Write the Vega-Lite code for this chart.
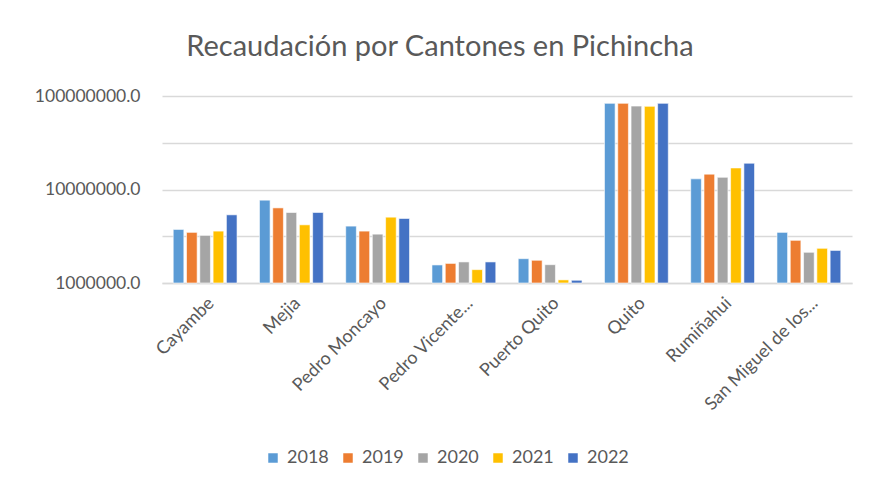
{
  "$schema": "https://vega.github.io/schema/vega-lite/v6.json",
  "width": 690,
  "height": 187,
  "autosize": "none",
  "padding": {"left": 162, "top": 96, "right": 17, "bottom": 201},
  "background": "white",
  "title": {"text": "Recaudación por Cantones en Pichincha", "anchor": "middle", "dx": -67, "offset": 25, "font": "Lato", "fontSize": 29, "fontWeight": "normal", "color": "#595959"},
  "data": {"values": [
    {"canton": "Cayambe", "year": "2018", "value": 3740000},
    {"canton": "Cayambe", "year": "2019", "value": 3480000},
    {"canton": "Cayambe", "year": "2020", "value": 3230000},
    {"canton": "Cayambe", "year": "2021", "value": 3590000},
    {"canton": "Cayambe", "year": "2022", "value": 5360000},
    {"canton": "Mejia", "year": "2018", "value": 7690000},
    {"canton": "Mejia", "year": "2019", "value": 6360000},
    {"canton": "Mejia", "year": "2020", "value": 5680000},
    {"canton": "Mejia", "year": "2021", "value": 4190000},
    {"canton": "Mejia", "year": "2022", "value": 5680000},
    {"canton": "Pedro Moncayo", "year": "2018", "value": 4060000},
    {"canton": "Pedro Moncayo", "year": "2019", "value": 3590000},
    {"canton": "Pedro Moncayo", "year": "2020", "value": 3330000},
    {"canton": "Pedro Moncayo", "year": "2021", "value": 5060000},
    {"canton": "Pedro Moncayo", "year": "2022", "value": 4900000},
    {"canton": "Pedro Vicente Maldonado", "year": "2018", "value": 1560000},
    {"canton": "Pedro Vicente Maldonado", "year": "2019", "value": 1620000},
    {"canton": "Pedro Vicente Maldonado", "year": "2020", "value": 1680000},
    {"canton": "Pedro Vicente Maldonado", "year": "2021", "value": 1390000},
    {"canton": "Pedro Vicente Maldonado", "year": "2022", "value": 1680000},
    {"canton": "Puerto Quito", "year": "2018", "value": 1820000},
    {"canton": "Puerto Quito", "year": "2019", "value": 1750000},
    {"canton": "Puerto Quito", "year": "2020", "value": 1570000},
    {"canton": "Puerto Quito", "year": "2021", "value": 1080000},
    {"canton": "Puerto Quito", "year": "2022", "value": 1070000},
    {"canton": "Quito", "year": "2018", "value": 83400000},
    {"canton": "Quito", "year": "2019", "value": 83400000},
    {"canton": "Quito", "year": "2020", "value": 78000000},
    {"canton": "Quito", "year": "2021", "value": 77500000},
    {"canton": "Quito", "year": "2022", "value": 83400000},
    {"canton": "Rumiñahui", "year": "2018", "value": 13000000},
    {"canton": "Rumiñahui", "year": "2019", "value": 14600000},
    {"canton": "Rumiñahui", "year": "2020", "value": 13500000},
    {"canton": "Rumiñahui", "year": "2021", "value": 17000000},
    {"canton": "Rumiñahui", "year": "2022", "value": 19100000},
    {"canton": "San Miguel de los Bancos", "year": "2018", "value": 3480000},
    {"canton": "San Miguel de los Bancos", "year": "2019", "value": 2860000},
    {"canton": "San Miguel de los Bancos", "year": "2020", "value": 2130000},
    {"canton": "San Miguel de los Bancos", "year": "2021", "value": 2350000},
    {"canton": "San Miguel de los Bancos", "year": "2022", "value": 2230000}
  ]},
  "mark": {"type": "bar", "stroke": "white", "strokeWidth": 0.6},
  "encoding": {
    "x": {
      "field": "canton", "type": "nominal", "sort": null,
      "scale": {"paddingInner": 0.26, "paddingOuter": 0.13},
      "axis": {
        "title": null, "labelAngle": -45, "ticks": false, "domainColor": "#d9d9d9", "domainWidth": 1.5,
        "labelFont": "Lato", "labelFontSize": 18, "labelColor": "#595959", "labelPadding": 11,
        "labelExpr": "datum.label == 'Pedro Vicente Maldonado' ? 'Pedro Vicente...' : datum.label == 'San Miguel de los Bancos' ? 'San Miguel de los...' : datum.label"
      }
    },
    "xOffset": {"field": "year", "type": "nominal", "scale": {"paddingInner": 0.2}},
    "y": {
      "field": "value", "type": "quantitative",
      "scale": {"type": "log", "domain": [1000000, 100000000]},
      "axis": {
        "title": null, "values": [1000000, 3162278, 10000000, 31622777, 100000000],
        "labelExpr": "abs(log(datum.value)/LN10 - round(log(datum.value)/LN10)) < 0.01 ? format(datum.value, '.1f') : ''",
        "grid": true, "gridColor": "#d9d9d9", "gridWidth": 1.5, "domain": false, "ticks": false,
        "labelFont": "Lato", "labelFontSize": 17.5, "labelColor": "#595959", "labelPadding": 22
      }
    },
    "y2": {"datum": 1000000},
    "color": {
      "field": "year", "type": "nominal",
      "scale": {"domain": ["2018", "2019", "2020", "2021", "2022"], "range": ["#5B9BD5", "#ED7D31", "#A5A5A5", "#FFC000", "#4472C4"]},
      "legend": {
        "title": null, "orient": "none", "legendX": 102, "legendY": 353, "direction": "horizontal",
        "symbolType": "square", "symbolSize": 90, "symbolStrokeWidth": 0,
        "labelFont": "Lato", "labelFontSize": 18, "labelColor": "#595959", "columnPadding": 10, "labelOffset": 5
      }
    }
  },
  "config": {"view": {"stroke": null}}
}
